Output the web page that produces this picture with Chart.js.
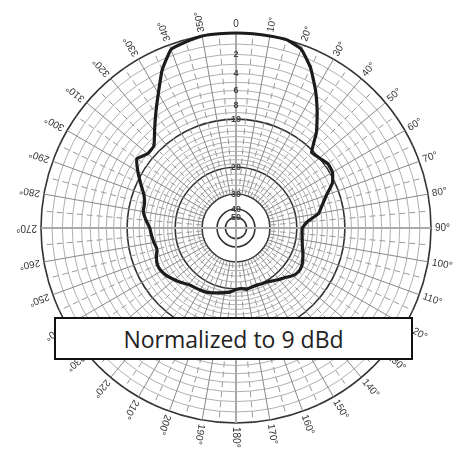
<!DOCTYPE html>
<html>
<head>
<meta charset="utf-8">
<script src="https://cdn.jsdelivr.net/npm/chart.js@4.4.1/dist/chart.umd.min.js"></script>
<style>
  html, body { margin: 0; padding: 0; background: #fff; }
  #wrap { position: relative; width: 453px; height: 457px; overflow: hidden; }
  #pattern { position: absolute; left: 0; top: 0; }
  #note {
    position: absolute; left: 54px; top: 317px; width: 355px; height: 39px;
    border: 2px solid #111; background: #fff;
    display: flex; align-items: center; justify-content: center;
    font-family: "Open Sans", sans-serif; font-size: 23px; color: #222;
  }
</style>
</head>
<body>
<div id="wrap">
  <canvas id="pattern" width="453" height="457"></canvas>
  <div id="note">Normalized to 9 dBd</div>
</div>
<script>
// azimuth in degrees, clockwise from north
const ANGLES = [
  0, 5, 10, 15, 20, 25, 30, 35, 40, 45, 50, 55,
  60, 65, 70, 75, 80, 85, 90, 95, 100, 105, 110, 115,
  120, 125, 130, 135, 140, 145, 150, 155, 160, 165, 170, 175,
  180, 185, 190, 195, 200, 205, 210, 215, 220, 225, 230, 235,
  240, 245, 250, 255, 260, 265, 270, 275, 280, 285, 290, 295,
  300, 305, 310, 315, 320, 325, 330, 335, 340, 345, 350, 355
];

// relative level in dB
const PATTERN_DB = [
  0, 0, 0, 0, -0.4, -1.7, -3.5, -5.5, -7.6, -10.3, -10.0, -9.5,
  -9.6, -10.4, -12.1, -13.4, -14.5, -17.2, -18.5, -18.5, -18.3, -17.9, -17.3, -16.7,
  -16.2, -16.1, -16.6, -17.6, -18.3, -19.0, -19.6, -19.8, -20.0, -19.9, -19.6, -20.0,
  -19.8, -19.1, -18.7, -18.3, -17.8, -17.4, -17.2, -17.0, -16.7, -15.9, -15.2, -14.5,
  -14.0, -13.9, -14.3, -14.9, -14.6, -14.3, -14.0, -13.2, -12.5, -12.4, -11.8, -10.6,
  -9.3, -8.2, -9.0, -8.9, -7.4, -5.7, -3.9, -1.9, -0.45, -0.2, 0, 0
];

// circles of the chart paper
const GRID_DB = [0, -1, -2, -3, -4, -5, -6, -7, -8, -9, -10, -11, -12, -13, -14, -15,
  -16, -17, -18, -19, -20, -22, -24, -26, -28, -30, -40, -50];
const MAJOR_DB = [0, -10, -20, -30, -40, -50];
const DB_LABELS = [-2, -4, -6, -8, -10, -20, -30, -40, -50];

// ARRL log-periodic radius: each 2 dB = 0.89 of the radius
const toR = db => Math.pow(0.89, -db / 2);

const tickDb = [null].concat([...GRID_DB].sort((a, b) => a - b));

const paperPlugin = {
  id: "paper",
  beforeDatasetsDraw(chart) {
    const s = chart.scales.r;
    const c = chart.ctx;
    const R = s.drawingArea;
    const inner = s.getDistanceFromCenterForValue(toR(-30));
    c.save();
    ANGLES.forEach((a, i) => {
      const axis = a % 90 === 0;
      const major = a % 10 === 0;
      const from = axis ? 0 : inner;
      const p0 = s.getPointPosition(i, from);
      const p1 = s.getPointPosition(i, R);
      c.beginPath();
      c.setLineDash(major ? [] : [6, 4]);
      c.strokeStyle = axis ? "#aaa" : (major ? "#888" : "#999");
      c.lineWidth = axis ? 2 : 1;
      c.moveTo(p0.x, p0.y);
      c.lineTo(p1.x, p1.y);
      c.stroke();
    });
    c.restore();
  },
  afterDraw(chart) {
    const s = chart.scales.r;
    const c = chart.ctx;
    const R = s.drawingArea;
    c.save();
    // dB labels up the 0 degree axis
    c.font = "bold 9px 'Liberation Sans', Arial, sans-serif";
    c.fillStyle = "#444";
    c.textAlign = "center";
    c.textBaseline = "middle";
    DB_LABELS.forEach(db => {
      const p = s.getPointPositionForValue(0, toR(db));
      c.fillText(String(-db), p.x, p.y);
    });
    // azimuth labels, written outward from the rim
    c.font = "10px 'Liberation Sans', Arial, sans-serif";
    c.fillStyle = "#333";
    c.textAlign = "left";
    ANGLES.forEach((a, i) => {
      if (a % 10 !== 0) return;
      const p = s.getPointPosition(i, R + 4);
      c.save();
      c.translate(p.x, p.y);
      c.rotate((a - 90) * Math.PI / 180);
      if (a === 0) { c.textAlign = "center"; c.rotate(Math.PI / 2); c.fillText("0", 0, -5); }
      else c.fillText(a + "°", 0, 0);
      c.restore();
    });
    c.restore();
  }
};

new Chart(document.getElementById("pattern"), {
  type: "radar",
  data: {
    labels: ANGLES,
    datasets: [{
      data: PATTERN_DB.map(toR),
      borderColor: "#1c1c1c",
      borderWidth: 3.2,
      borderJoinStyle: "round",
      pointRadius: 0,
      fill: false,
      tension: 0.12,
    }],
  },
  plugins: [paperPlugin],
  options: {
    responsive: false,
    animation: false,
    layout: { padding: { left: 41, right: 22, top: 33, bottom: 34 } },
    plugins: { legend: { display: false }, tooltip: { enabled: false } },
    scales: {
      r: {
        min: 0,
        max: 1,
        afterBuildTicks: scale => {
          scale.ticks = tickDb.map(db => ({ value: db === null ? 0 : toR(db) }));
        },
        ticks: { display: false },
        pointLabels: { display: false },
        angleLines: { display: false },
        grid: {
          circular: true,
          color: ctx => MAJOR_DB.includes(tickDb[ctx.index]) ? "#333" : "#9a9a9a",
          lineWidth: ctx => MAJOR_DB.includes(tickDb[ctx.index]) ? 1.6 : 0.8,
        },
      },
    },
  },
});
</script>
</body>
</html>
